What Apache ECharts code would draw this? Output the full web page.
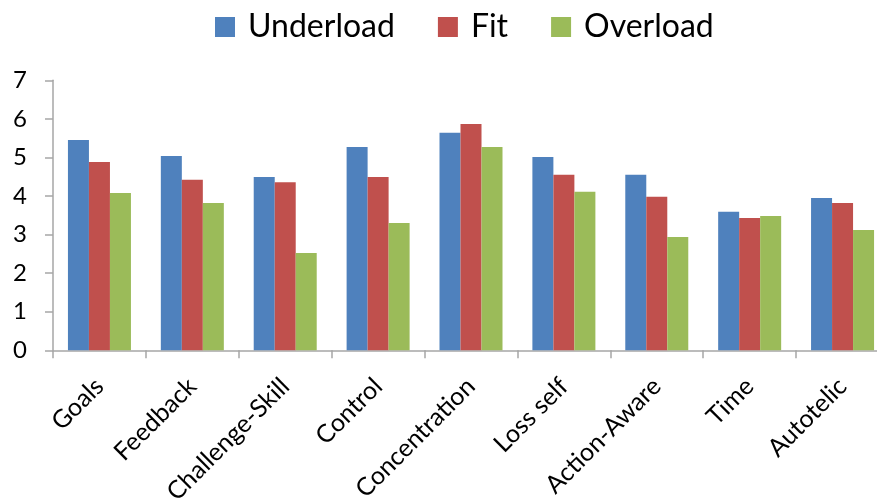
<!DOCTYPE html>
<html>
<head>
<meta charset="utf-8">
<script src="https://cdn.jsdelivr.net/npm/echarts@6/dist/echarts.min.js"></script>
<style>
  html, body { margin: 0; padding: 0; background: #fff; }
  #chart { width: 877px; height: 501px; }
</style>
</head>
<body>
<div id="chart"></div>
<script>
// Flow dimensions and mean scores per workload condition
const categories = ['Goals', 'Feedback', 'Challenge-Skill', 'Control', 'Concentration',
                    'Loss self', 'Action-Aware', 'Time', 'Autotelic'];
const underload = [5.45, 5.04, 4.49, 5.27, 5.64, 5.01, 4.55, 3.59, 3.95];
const fit       = [4.88, 4.42, 4.36, 4.49, 5.87, 4.55, 3.98, 3.43, 3.82];
const overload  = [4.08, 3.82, 2.52, 3.30, 5.27, 4.11, 2.94, 3.48, 3.12];
const seriesNames = ['Underload', 'Fit', 'Overload'];
const yTicks = [0, 1, 2, 3, 4, 5, 6, 7];

const font = 'Lato, "Open Sans", sans-serif';
const axisGray = '#a6a6a6';

const chart = echarts.init(document.getElementById('chart'));

const mkBar = (name, data, color) => ({
  name, type: 'bar', data,
  barWidth: 21, barGap: '0%',
  itemStyle: { color },
  emphasis: { disabled: true }
});

chart.setOption({
  animation: false,
  textStyle: { fontFamily: font },
  legend: {
    data: seriesNames,
    left: 210, top: 6,
    itemWidth: 20, itemHeight: 20,
    itemGap: 43,
    icon: 'rect',
    textStyle: { fontSize: 32, color: '#000', fontFamily: font, padding: [0, 0, 0, 8] }
  },
  grid: {
    left: 53, right: -12, top: 80.3, bottom: 150.7,
    containLabel: false, outerBoundsMode: 'none'
  },
  xAxis: {
    type: 'category',
    data: categories,
    axisLine: { lineStyle: { color: axisGray, width: 1.5 } },
    axisTick: { show: true, length: 8, lineStyle: { color: axisGray, width: 1.5 } },
    axisLabel: {
      interval: 0, rotate: 45, margin: 32,
      fontSize: 25, color: '#000', fontFamily: font
    }
  },
  yAxis: {
    type: 'value',
    min: yTicks[0], max: yTicks[yTicks.length - 1], interval: 1,
    axisLine: { show: true, lineStyle: { color: axisGray, width: 1.5 } },
    axisTick: { show: true, length: 8, lineStyle: { color: axisGray, width: 1.5 } },
    splitLine: { show: false },
    axisLabel: { margin: 26, fontSize: 24, color: '#000', fontFamily: font }
  },
  series: [
    mkBar(seriesNames[0], underload, '#4f81bd'),
    mkBar(seriesNames[1], fit, '#c0504d'),
    mkBar(seriesNames[2], overload, '#9bbb59')
  ]
});
</script>
</body>
</html>
